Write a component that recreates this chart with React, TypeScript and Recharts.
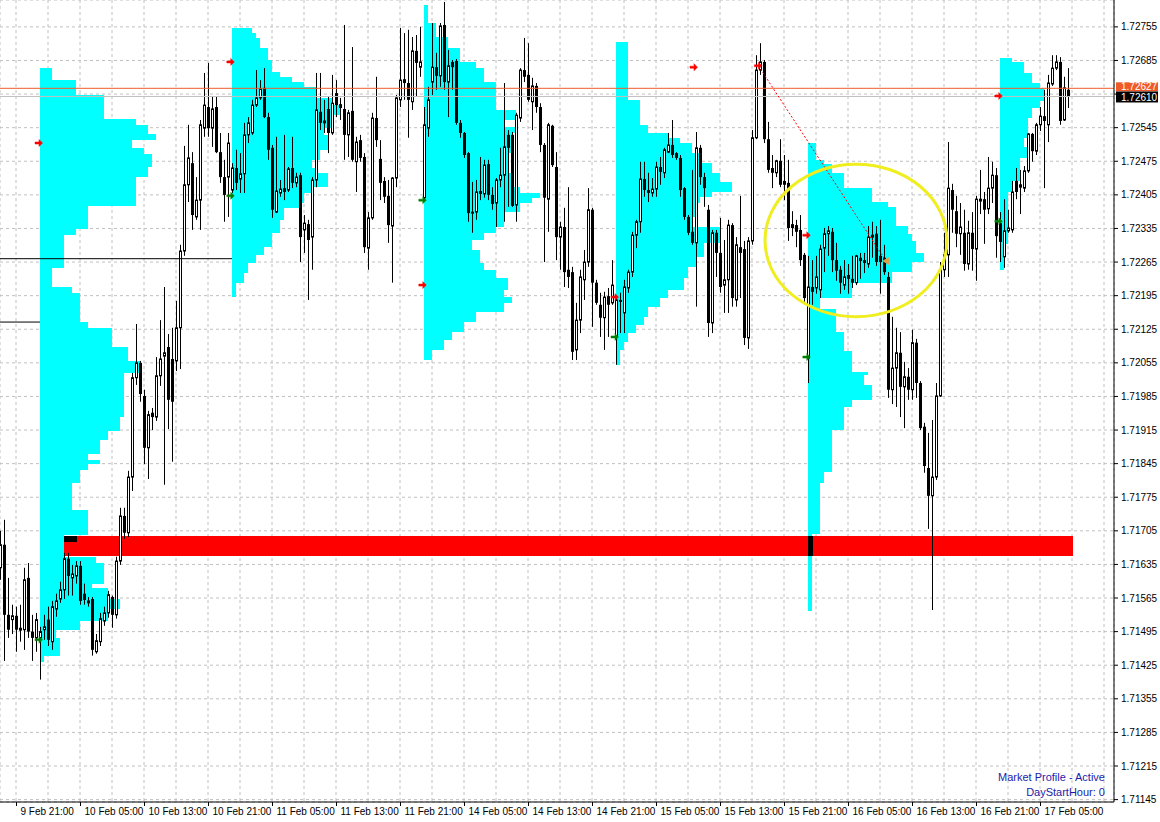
import React from "react";
import {
  Bar,
  CartesianGrid,
  ComposedChart,
  ReferenceArea,
  ReferenceDot,
  ReferenceLine,
  XAxis,
  YAxis,
} from "recharts";

// GBP-ish M30 chart with daily market profiles. Candles are [open, high, low, close].
type Ohlc = [number, number, number, number];

const feb09: Ohlc[] = [
  [1.71628, 1.71705, 1.71603, 1.71676], [1.71676, 1.71728, 1.71434, 1.7153], [1.7153, 1.71607, 1.71482, 1.71499],
  [1.7152, 1.71551, 1.7149, 1.71528], [1.71528, 1.71547, 1.71453, 1.71499], [1.71503, 1.71551, 1.71474, 1.71497],
  [1.71499, 1.71628, 1.71457, 1.71603], [1.71607, 1.71638, 1.71482, 1.71495], [1.71495, 1.7153, 1.71434, 1.71482],
  [1.71482, 1.71534, 1.71453, 1.7152],
];

const feb10: Ohlc[] = [
  [1.71482, 1.71505, 1.71395, 1.71495], [1.71499, 1.7153, 1.71478, 1.71505], [1.7152, 1.71547, 1.71465, 1.71478],
  [1.71474, 1.71559, 1.71457, 1.71547], [1.71542, 1.71574, 1.71526, 1.71559], [1.71563, 1.71599, 1.71555, 1.71582],
  [1.71582, 1.71659, 1.71563, 1.71647], [1.71647, 1.71659, 1.7157, 1.71611], [1.71607, 1.71634, 1.7157, 1.71615],
  [1.71611, 1.71642, 1.71595, 1.71632], [1.71632, 1.71642, 1.71551, 1.71559], [1.71574, 1.71595, 1.71551, 1.71561],
  [1.71555, 1.71567, 1.71547, 1.71559], [1.71563, 1.71567, 1.71445, 1.71457], [1.71453, 1.7149, 1.71449, 1.71476],
  [1.71474, 1.71534, 1.71465, 1.71522], [1.71517, 1.71547, 1.71507, 1.71534], [1.71534, 1.7158, 1.71524, 1.71572],
  [1.71567, 1.7157, 1.71503, 1.7153], [1.7153, 1.71651, 1.71522, 1.71642], [1.71642, 1.71753, 1.71634, 1.71736],
  [1.71736, 1.71753, 1.71688, 1.71701], [1.71701, 1.7183, 1.71692, 1.71817], [1.71817, 1.72034, 1.71788, 1.72024],
  [1.72024, 1.72136, 1.72009, 1.72055], [1.72055, 1.72059, 1.71974, 1.7199], [1.71986, 1.71999, 1.71844, 1.71878],
  [1.71878, 1.71955, 1.71813, 1.71947], [1.71951, 1.71961, 1.71915, 1.71942], [1.71942, 1.72067, 1.71934, 1.72028],
  [1.72028, 1.72144, 1.72007, 1.72063], [1.72069, 1.72213, 1.71801, 1.72076], [1.72088, 1.72115, 1.71917, 1.71978],
  [1.72063, 1.72128, 1.71849, 1.71974], [1.72059, 1.72184, 1.72038, 1.72128], [1.72128, 1.72301, 1.72042, 1.72288],
  [1.72288, 1.72507, 1.72278, 1.72426], [1.72426, 1.72551, 1.7239, 1.72482], [1.72471, 1.72494, 1.72332, 1.72363],
  [1.72359, 1.72442, 1.72353, 1.72394], [1.72394, 1.72561, 1.72332, 1.72551], [1.72544, 1.72659, 1.72526, 1.72592],
  [1.72588, 1.7268, 1.72526, 1.72544], [1.72544, 1.72609, 1.72505, 1.72584], [1.72588, 1.72609, 1.72492, 1.72494],
  [1.72494, 1.72534, 1.7243, 1.72442], [1.72442, 1.72478, 1.72349, 1.72405], [1.72442, 1.72534, 1.72359, 1.72513],
];

const feb11: Ohlc[] = [
  [1.72415, 1.72471, 1.72409, 1.72461], [1.72461, 1.72499, 1.72415, 1.7243], [1.72438, 1.72492, 1.72409, 1.72449],
  [1.72449, 1.72555, 1.72409, 1.7253], [1.7253, 1.72567, 1.72513, 1.72555], [1.72534, 1.72603, 1.7253, 1.72592],
  [1.72592, 1.72665, 1.72588, 1.72607], [1.72607, 1.72644, 1.72603, 1.72626], [1.72628, 1.72669, 1.72565, 1.72567],
  [1.72567, 1.72576, 1.72478, 1.72499], [1.72503, 1.72509, 1.72357, 1.72374], [1.72369, 1.72526, 1.72367, 1.72413],
  [1.72409, 1.72436, 1.72401, 1.72417], [1.72419, 1.7253, 1.72394, 1.72411], [1.72415, 1.72463, 1.72411, 1.72459],
  [1.72461, 1.72526, 1.72419, 1.7243], [1.7243, 1.72451, 1.72421, 1.72442], [1.72446, 1.72451, 1.72265, 1.72317],
  [1.72332, 1.72363, 1.72284, 1.72346], [1.72344, 1.72353, 1.72186, 1.72311], [1.72317, 1.72442, 1.72249, 1.72436],
  [1.72436, 1.72659, 1.72421, 1.72582], [1.72578, 1.72659, 1.7254, 1.72555], [1.72555, 1.72603, 1.72534, 1.72559],
  [1.72584, 1.72609, 1.72492, 1.72534], [1.72534, 1.72655, 1.7253, 1.72596], [1.72617, 1.72644, 1.72567, 1.72592],
  [1.72594, 1.72607, 1.72561, 1.72586], [1.72584, 1.72759, 1.72478, 1.7253], [1.7253, 1.72582, 1.72484, 1.72576],
  [1.7258, 1.72713, 1.72474, 1.72478], [1.72474, 1.72526, 1.72411, 1.72515], [1.72519, 1.7253, 1.72474, 1.72482],
  [1.72484, 1.72492, 1.72284, 1.72296], [1.72294, 1.72369, 1.72249, 1.72357], [1.72357, 1.72576, 1.72353, 1.72565],
  [1.72565, 1.72651, 1.72505, 1.72519], [1.7248, 1.72519, 1.72394, 1.7243], [1.72434, 1.72442, 1.72388, 1.72401],
  [1.72403, 1.72436, 1.72305, 1.72342], [1.7234, 1.72442, 1.72222, 1.7244], [1.7244, 1.72613, 1.72421, 1.72607],
  [1.72603, 1.72753, 1.72588, 1.72644], [1.72646, 1.72742, 1.72603, 1.72638], [1.72638, 1.72749, 1.72524, 1.72603],
  [1.72599, 1.72734, 1.72582, 1.72705], [1.72705, 1.72738, 1.72609, 1.7268], [1.72671, 1.72755, 1.72651, 1.72682],
];

const feb14: Ohlc[] = [
  [1.72399, 1.72588, 1.72394, 1.72551], [1.72544, 1.7263, 1.72526, 1.72603], [1.7264, 1.72763, 1.72613, 1.72671],
  [1.72671, 1.72701, 1.72624, 1.72653], [1.72653, 1.72763, 1.7263, 1.72757], [1.72759, 1.72807, 1.72624, 1.7264],
  [1.7264, 1.72707, 1.72567, 1.72674], [1.72682, 1.72686, 1.72624, 1.72671], [1.72684, 1.72688, 1.72551, 1.72555],
  [1.72555, 1.72561, 1.72524, 1.72534], [1.72534, 1.72536, 1.72482, 1.72488], [1.72492, 1.72494, 1.72349, 1.72367],
  [1.72367, 1.72432, 1.72326, 1.72369], [1.72369, 1.72436, 1.72353, 1.72411], [1.72413, 1.72484, 1.72394, 1.72407],
  [1.72407, 1.72478, 1.72399, 1.72467], [1.72469, 1.72478, 1.72394, 1.72405], [1.72405, 1.72421, 1.72374, 1.72386],
  [1.72388, 1.7244, 1.72338, 1.72436], [1.72436, 1.72503, 1.72421, 1.72446], [1.72446, 1.72638, 1.72349, 1.72505],
  [1.7253, 1.7254, 1.7238, 1.72503], [1.7253, 1.72536, 1.7238, 1.72382], [1.72384, 1.72576, 1.72349, 1.72571],
  [1.72565, 1.72669, 1.72557, 1.72665], [1.72665, 1.72732, 1.7264, 1.72651], [1.72655, 1.72721, 1.72599, 1.72603],
  [1.72599, 1.72649, 1.7254, 1.72632], [1.72632, 1.72638, 1.72576, 1.72588], [1.72588, 1.72596, 1.72494, 1.72509],
  [1.72509, 1.72513, 1.72265, 1.72399], [1.72396, 1.72555, 1.72328, 1.72551], [1.72549, 1.72551, 1.72463, 1.72467],
  [1.72463, 1.72494, 1.72269, 1.72317], [1.72317, 1.72349, 1.72249, 1.72338], [1.72338, 1.72378, 1.72213, 1.72244],
  [1.72249, 1.72421, 1.72211, 1.72234], [1.72244, 1.72255, 1.72061, 1.72078], [1.72082, 1.7218, 1.72061, 1.72144],
  [1.72144, 1.72249, 1.72117, 1.72234], [1.72228, 1.7229, 1.72186, 1.72265], [1.72265, 1.72419, 1.72255, 1.72374],
  [1.72374, 1.72378, 1.7213, 1.72222], [1.72222, 1.72228, 1.72176, 1.7218], [1.72176, 1.72201, 1.72109, 1.72149],
  [1.72149, 1.72203, 1.72082, 1.72192], [1.72194, 1.72211, 1.72109, 1.72176], [1.7218, 1.72269, 1.72176, 1.72217],
];

const feb15: Ohlc[] = [
  [1.72109, 1.72192, 1.72051, 1.72186], [1.72186, 1.72201, 1.72117, 1.72182], [1.72159, 1.72228, 1.72117, 1.72213],
  [1.72211, 1.72249, 1.72201, 1.72244], [1.72244, 1.72328, 1.72234, 1.72321], [1.72321, 1.72353, 1.72294, 1.72349],
  [1.72349, 1.72474, 1.72326, 1.72438], [1.72438, 1.72474, 1.72401, 1.72415], [1.72415, 1.72451, 1.7239, 1.72409],
  [1.72409, 1.7244, 1.72401, 1.72417], [1.72417, 1.72474, 1.72401, 1.72463], [1.72463, 1.72484, 1.72426, 1.72453],
  [1.72451, 1.72503, 1.7244, 1.72499], [1.72494, 1.72534, 1.72492, 1.72509], [1.72509, 1.72561, 1.72482, 1.72488],
  [1.72492, 1.72494, 1.72478, 1.72482], [1.72482, 1.72488, 1.72401, 1.72415], [1.72419, 1.72421, 1.72353, 1.72359],
  [1.72359, 1.72363, 1.72321, 1.72326], [1.72328, 1.72457, 1.72301, 1.72305], [1.72305, 1.72536, 1.72172, 1.72503],
  [1.72503, 1.72509, 1.72426, 1.72442], [1.72442, 1.72451, 1.7238, 1.72419], [1.72374, 1.72384, 1.72109, 1.72138],
  [1.72138, 1.72332, 1.72117, 1.72326], [1.72326, 1.72332, 1.72234, 1.72284], [1.72284, 1.72357, 1.72201, 1.72213],
  [1.72217, 1.72311, 1.72159, 1.72228], [1.72228, 1.72353, 1.72159, 1.72342], [1.72342, 1.72346, 1.72172, 1.7219],
  [1.72186, 1.72317, 1.72172, 1.72301], [1.72296, 1.72403, 1.7219, 1.72284], [1.72292, 1.72309, 1.72092, 1.72107],
  [1.72107, 1.72317, 1.72084, 1.72309], [1.72309, 1.7254, 1.72301, 1.72524], [1.72524, 1.72696, 1.72521, 1.72665],
  [1.72665, 1.72721, 1.72655, 1.72682], [1.72682, 1.72686, 1.72513, 1.72521], [1.72521, 1.72557, 1.72451, 1.72457],
  [1.72461, 1.72488, 1.72419, 1.72451], [1.72451, 1.72478, 1.72442, 1.72476], [1.72476, 1.72521, 1.72421, 1.72426],
  [1.72434, 1.72488, 1.72394, 1.72426], [1.7243, 1.72478, 1.72309, 1.72336], [1.72344, 1.72371, 1.72319, 1.72336],
  [1.72342, 1.72353, 1.72296, 1.72328], [1.72332, 1.72363, 1.72257, 1.72269], [1.7228, 1.72284, 1.72182, 1.7219],
];

const feb16: Ohlc[] = [
  [1.72065, 1.72278, 1.72013, 1.72213], [1.72213, 1.72269, 1.72176, 1.72203], [1.72211, 1.72278, 1.72199, 1.72234],
  [1.72207, 1.72301, 1.7219, 1.72292], [1.72294, 1.72336, 1.72244, 1.72324], [1.72324, 1.7234, 1.72278, 1.7233],
  [1.72328, 1.72336, 1.72244, 1.72269], [1.72269, 1.72305, 1.72226, 1.72247], [1.72249, 1.72257, 1.72199, 1.72222],
  [1.72217, 1.72269, 1.72207, 1.72234], [1.72238, 1.72261, 1.72199, 1.7223], [1.7223, 1.72278, 1.72211, 1.72222],
  [1.72222, 1.7228, 1.72217, 1.72278], [1.72274, 1.72284, 1.7223, 1.72267], [1.72269, 1.72284, 1.72242, 1.72263],
  [1.72261, 1.7234, 1.72253, 1.72317], [1.72317, 1.72349, 1.72274, 1.72321], [1.72324, 1.7234, 1.72257, 1.72265],
  [1.72278, 1.72353, 1.72199, 1.72265], [1.72274, 1.72301, 1.72238, 1.72244], [1.72234, 1.72244, 1.71982, 1.71999],
  [1.71999, 1.72151, 1.71969, 1.72044], [1.72044, 1.72128, 1.71963, 1.72076], [1.72076, 1.72119, 1.71942, 1.72005],
  [1.72005, 1.72057, 1.71919, 1.72026], [1.72026, 1.72044, 1.71978, 1.71999], [1.71999, 1.72124, 1.71978, 1.72097],
  [1.72097, 1.72105, 1.71982, 1.72013], [1.72013, 1.72017, 1.71915, 1.71919], [1.71922, 1.7193, 1.71826, 1.7184],
  [1.71836, 1.71909, 1.71709, 1.71778], [1.71778, 1.71936, 1.7154, 1.71817], [1.71817, 1.72013, 1.71811, 1.71986],
  [1.71986, 1.72265, 1.71984, 1.72249], [1.72249, 1.72326, 1.72234, 1.7228], [1.7228, 1.72515, 1.72234, 1.72419],
  [1.72415, 1.72428, 1.72326, 1.72374], [1.72371, 1.72403, 1.72296, 1.72324], [1.72324, 1.72388, 1.7228, 1.72338],
  [1.72326, 1.72374, 1.72247, 1.72261], [1.72261, 1.72351, 1.72249, 1.72326], [1.72326, 1.72369, 1.72247, 1.72292],
  [1.72292, 1.72403, 1.72226, 1.72396], [1.72392, 1.72457, 1.72365, 1.72396], [1.72396, 1.72411, 1.72303, 1.72374],
  [1.72376, 1.72484, 1.72365, 1.72419], [1.72419, 1.72474, 1.72388, 1.72446], [1.72446, 1.72461, 1.72274, 1.72319],
];

const feb17: Ohlc[] = [
  [1.72346, 1.72369, 1.72265, 1.72307], [1.72276, 1.72396, 1.72253, 1.7233], [1.7233, 1.72374, 1.72326, 1.72336],
  [1.72332, 1.72434, 1.72326, 1.72411], [1.72434, 1.72461, 1.72396, 1.72411], [1.72421, 1.72457, 1.72365, 1.72426],
  [1.72419, 1.72465, 1.72411, 1.72455], [1.72455, 1.72534, 1.72451, 1.72532], [1.72532, 1.72534, 1.72474, 1.72496],
  [1.72496, 1.72555, 1.72488, 1.72551], [1.72551, 1.72588, 1.72538, 1.72569], [1.72569, 1.72624, 1.72419, 1.72559],
  [1.72551, 1.72655, 1.72515, 1.72638], [1.72636, 1.72696, 1.72632, 1.72669], [1.72669, 1.72696, 1.72665, 1.72682],
  [1.72682, 1.72692, 1.72551, 1.72559], [1.72561, 1.72651, 1.72559, 1.72628], [1.72624, 1.72669, 1.72586, 1.7261],
];

// daily market profiles: price levels (top -> bottom) and TPO count for each band
const p1Levels = [1.72669, 1.72644, 1.72613, 1.72563, 1.72551, 1.72532, 1.72519, 1.72503, 1.7249, 1.72463, 1.72442, 1.72382, 1.72334, 1.72321, 1.72253, 1.72213, 1.72201, 1.7214, 1.72128, 1.72088, 1.72059, 1.72034, 1.72007, 1.71942, 1.71913, 1.71894, 1.71865, 1.71853, 1.71844, 1.71832, 1.71805, 1.71749, 1.71697, 1.71651, 1.71638, 1.71595, 1.71586, 1.71563, 1.71542, 1.71517, 1.71499, 1.71482, 1.71445, 1.71432];
const p1Counts = [3, 9, 16, 24, 27, 29, 23, 26, 28, 27, 24, 12, 9, 6, 3, 8, 10, 12, 18, 22, 25, 21, 21, 20, 17, 15, 12, 15, 12, 10, 8, 12, 6, 14, 16, 13, 17, 20, 17, 10, 4, 5, 1];
const p2Levels = [1.72753, 1.72742, 1.72732, 1.72711, 1.72686, 1.72661, 1.72651, 1.7264, 1.7263, 1.72607, 1.72592, 1.72571, 1.72544, 1.7253, 1.72499, 1.72478, 1.72461, 1.72451, 1.72421, 1.72409, 1.72388, 1.72378, 1.72353, 1.72326, 1.72296, 1.7228, 1.72263, 1.72242, 1.72222, 1.72192];
const p2Counts = [5, 6, 7, 9, 10, 12, 15, 18, 21, 25, 27, 25, 23, 24, 22, 20, 21, 24, 20, 18, 17, 13, 12, 10, 8, 6, 4, 3, 1];
const p3Levels = [1.72801, 1.72763, 1.72734, 1.72711, 1.72682, 1.72669, 1.7264, 1.72582, 1.72561, 1.72546, 1.72534, 1.72492, 1.72451, 1.72421, 1.72409, 1.72399, 1.72388, 1.72369, 1.72359, 1.72338, 1.72326, 1.72311, 1.7229, 1.72263, 1.72249, 1.72232, 1.72207, 1.72192, 1.7218, 1.72161, 1.7214, 1.72119, 1.72103, 1.72082, 1.72061];
const p3Counts = [1, 3, 6, 9, 13, 15, 18, 23, 20, 23, 22, 21, 22, 24, 29, 27, 24, 20, 20, 18, 15, 12, 14, 15, 18, 21, 20, 22, 20, 13, 10, 7, 5, 2];
const p4Levels = [1.72724, 1.72603, 1.72551, 1.72534, 1.72524, 1.72513, 1.72492, 1.72471, 1.72451, 1.72432, 1.72411, 1.72401, 1.72388, 1.72359, 1.72338, 1.72305, 1.72276, 1.72255, 1.72232, 1.72207, 1.7219, 1.72172, 1.72151, 1.72134, 1.72117, 1.72099, 1.72082, 1.72051];
const p4Counts = [3, 6, 8, 13, 16, 19, 21, 24, 26, 29, 24, 21, 20, 19, 26, 22, 20, 18, 17, 13, 11, 8, 7, 5, 3, 2, 1];
const p5Levels = [1.72513, 1.72478, 1.72469, 1.72451, 1.72419, 1.7239, 1.7238, 1.7234, 1.72324, 1.72309, 1.72284, 1.72265, 1.72244, 1.72222, 1.7219, 1.72167, 1.72119, 1.7208, 1.72036, 1.7203, 1.72009, 1.71978, 1.71963, 1.71915, 1.71828, 1.71805, 1.71699, 1.71538];
const p5Counts = [2, 4, 6, 9, 16, 20, 22, 25, 26, 27, 29, 26, 21, 11, 3, 7, 9, 11, 15, 14, 16, 11, 9, 6, 4, 3, 1];
const p6Levels = [1.7269, 1.72682, 1.72659, 1.72638, 1.72628, 1.72601, 1.72586, 1.72565, 1.72524, 1.72505, 1.72482, 1.72434, 1.72411, 1.72303, 1.72249];
const p6Counts = [3, 6, 8, 10, 11, 10, 8, 7, 6, 7, 5, 3, 2, 1];

const priceTicks = [
  1.71145, 1.71215, 1.71285, 1.71355, 1.71425, 1.71495, 1.71565, 1.71635, 1.71705, 1.71775, 1.71845, 1.71915,
  1.71985, 1.72055, 1.72125, 1.72195, 1.72265, 1.72335, 1.72405, 1.72475, 1.72545, 1.72615, 1.72685, 1.72755,
];
// this tick's label sits under the bid/ask tags on the price scale
const hiddenTick = 1.72615;
const timeLabels = [
  "9 Feb 21:00", "10 Feb 05:00", "10 Feb 13:00", "10 Feb 21:00", "11 Feb 05:00", "11 Feb 13:00",
  "11 Feb 21:00", "14 Feb 05:00", "14 Feb 13:00", "14 Feb 21:00", "15 Feb 05:00", "15 Feb 13:00",
  "15 Feb 21:00", "16 Feb 05:00", "16 Feb 13:00", "16 Feb 21:00", "17 Feb 05:00",
];

// markers, levels and drawings on the chart
const closeMarks = [[5.75, 1.72513], [53.7, 1.72682], [101.7, 1.72217], [149.75, 1.72192], [169.5, 1.72671], [185.6, 1.72674], [197.7, 1.72321], [245.7, 1.72611]];
const openMarks = [[5.75, 1.71478], [53.7, 1.72403], [101.7, 1.72394], [149.75, 1.72109], [197.7, 1.72067], [245.7, 1.7235]];
const pivotMark = [217.5, 1.72267];
const trendLine = [[185.6, 1.72674], [217.5, 1.72267]];
const circleBox = [187.25, 232.75, 1.72151, 1.72469];
const prevLevels = [[-4, 54, 1.72272], [-4, 6, 1.7214]];
const zone = { from: 12, to: 264.25, low: 1.71653, high: 1.71694 };
const askPrice = 1.72627;
const bidPrice = 1.7261;

const FIRST_BAR = -4;
const candles = [feb09, feb10, feb11, feb14, feb15, feb16, feb17].flat().map((v, k) => ({
  i: FIRST_BAR + k,
  o: v[0],
  h: v[1],
  l: v[2],
  c: v[3],
  range: [v[2], v[1]],
}));

const profiles = [
  { start: 6, levels: p1Levels, counts: p1Counts },
  { start: 54, levels: p2Levels, counts: p2Counts },
  { start: 102, levels: p3Levels, counts: p3Counts },
  { start: 150, levels: p4Levels, counts: p4Counts },
  { start: 198, levels: p5Levels, counts: p5Counts },
  { start: 246, levels: p6Levels, counts: p6Counts },
];

const gridTicks = Array.from({ length: 35 }, (_, k) => k * 8);

const W = 1160;
const H = 822;
const FONT = "'Liberation Sans', Arial, sans-serif";

function Candle(props: any) {
  const { x, y, width, height, payload } = props;
  if (x == null || payload == null) return null;
  const top = Math.min(y, y + height);
  const bottom = Math.max(y, y + height);
  const span = payload.h - payload.l;
  const py = (p: number) => (span > 0 ? top + ((payload.h - p) / span) * (bottom - top) : top);
  const cx = Math.round(x + width / 2);
  const yo = py(payload.o);
  const yc = py(payload.c);
  const bTop = Math.min(yo, yc);
  const bh = Math.max(Math.abs(yo - yc), 1);
  const up = payload.c >= payload.o;
  return (
    <g>
      <line x1={cx + 0.5} x2={cx + 0.5} y1={top} y2={bottom} stroke="#000" strokeWidth={1} />
      {up ? (
        <rect x={cx - 0.5} y={bTop} width={2} height={bh} fill="#fff" stroke="#000" strokeWidth={1} />
      ) : (
        <rect x={cx - 1} y={bTop} width={3} height={bh} fill="#000" />
      )}
    </g>
  );
}

const CrispRect = (p: any) => (
  <rect x={p.x} y={p.y} width={p.width} height={p.height} fill={p.fill} shapeRendering="crispEdges" />
);

const EllipseShape = (p: any) => (
  <ellipse
    cx={p.x + p.width / 2}
    cy={p.y + p.height / 2}
    rx={p.width / 2}
    ry={p.height / 2}
    fill="none"
    stroke="#f0ee20"
    strokeWidth={3}
  />
);

const arrowShape = (color: string) => (p: any) => (
  <path
    d={`M${p.cx - 4},${p.cy - 1} h4 v-2.5 l3.5,3.5 l-3.5,3.5 v-2.5 h-4 z`}
    fill={color}
    stroke={color}
    strokeWidth={0.5}
  />
);

const triangleShape = (p: any) => (
  <path d={`M${p.cx - 4},${p.cy} L${p.cx + 3},${p.cy - 4} L${p.cx + 3},${p.cy + 4} Z`} fill="#d9a050" />
);

function TimeTick({ x, y, payload }: any) {
  const k = payload.value / 16;
  const label = Number.isInteger(k) ? timeLabels[k] : undefined;
  if (!label) return <g />;
  const px = Math.round(x) + 0.5;
  return (
    <g>
      <line x1={px} x2={px} y1={y} y2={y + 4} stroke="#000" />
      <text x={px + 4} y={y + 13} fontSize={10} fill="#000" fontFamily={FONT}>
        {label}
      </text>
    </g>
  );
}

function PriceTick({ x, y, payload }: any) {
  if (Math.abs(payload.value - hiddenTick) < 1e-7) return <g />;
  return (
    <text x={x} y={y} dy="0.355em" fontSize={10} fill="#000" fontFamily={FONT} textAnchor="start">
      {payload.value.toFixed(5)}
    </text>
  );
}

const priceTag = (fill: string, text: string, top: number, bottom: number) => (props: any) => {
  const vb = props.viewBox;
  if (!vb) return null;
  const x = vb.x + vb.width + 2;
  const y = vb.y;
  return (
    <g>
      <rect x={x} y={y - top} width={42} height={top + bottom} fill={fill} />
      <text x={x + 5} y={y + bottom - 1.5} fontSize={10} fill="#fff" fontFamily={FONT}>
        {text}
      </text>
    </g>
  );
};

export default function App() {
  return (
    <div style={{ position: "absolute", left: 0, top: 0, width: W, height: H, background: "#fff", fontFamily: FONT }}>
      <ComposedChart width={W} height={H} data={candles} margin={{ top: 0, right: 0, bottom: 0, left: 0 }}>
        <CartesianGrid stroke="#c0c0c0" strokeDasharray="3 3" />
        <XAxis
          type="number"
          dataKey="i"
          domain={[-4, 274.5]}
          allowDataOverflow
          ticks={gridTicks}
          interval={0}
          height={20}
          tickSize={0}
          tickMargin={0}
          tickLine={false}
          stroke="#000"
          tick={<TimeTick />}
        />
        <YAxis
          orientation="right"
          type="number"
          domain={[1.7114, 1.72811]}
          allowDataOverflow
          ticks={priceTicks}
          interval={0}
          width={46}
          tickSize={4}
          tickMargin={3}
          stroke="#000"
          tick={<PriceTick />}
        />
        {profiles.flatMap((p, k) =>
          p.counts.map((n, j) => (
            <ReferenceArea
              key={`p${k}-${j}`}
              x1={p.start}
              x2={p.start + n}
              y1={p.levels[j + 1]}
              y2={p.levels[j]}
              fill="#00ffff"
              fillOpacity={1}
              stroke="none"
              shape={CrispRect}
            />
          ))
        )}
        <ReferenceArea x1={zone.from} x2={zone.to} y1={zone.low} y2={zone.high} fill="#ff0000" fillOpacity={1} shape={CrispRect} />
        <ReferenceArea x1={zone.from} x2={zone.from + 3.25} y1={1.71682} y2={zone.high} fill="#000" fillOpacity={1} shape={CrispRect} />
        <ReferenceArea x1={198} x2={199.25} y1={zone.low} y2={zone.high} fill="#000" fillOpacity={1} shape={CrispRect} />
        <Bar dataKey="range" barSize={3} shape={<Candle />} isAnimationActive={false} />
        {prevLevels.map(([a, b, y], k) => (
          <ReferenceLine key={`lv${k}`} segment={[{ x: a, y }, { x: b, y }]} stroke="#000" strokeWidth={1} />
        ))}
        <ReferenceLine y={askPrice} stroke="#f05a28" strokeWidth={1} label={priceTag("#f05a28", "1.72627", 6, 3)} />
        <ReferenceLine y={bidPrice} stroke="#c0c0c0" strokeWidth={1} label={priceTag("#000", "1.72610", 5, 6)} />
        <ReferenceLine
          segment={[
            { x: trendLine[0][0], y: trendLine[0][1] },
            { x: trendLine[1][0], y: trendLine[1][1] },
          ]}
          stroke="#ff0000"
          strokeWidth={1}
          strokeDasharray="2 2"
        />
        {closeMarks.map(([x, y], k) => (
          <ReferenceDot key={`cm${k}`} x={x} y={y} r={3} shape={arrowShape("#ff0000")} />
        ))}
        {openMarks.map(([x, y], k) => (
          <ReferenceDot key={`om${k}`} x={x} y={y} r={3} shape={arrowShape("#008000")} />
        ))}
        <ReferenceDot x={pivotMark[0]} y={pivotMark[1]} r={3} shape={triangleShape} />
        <ReferenceArea
          x1={circleBox[0]}
          x2={circleBox[1]}
          y1={circleBox[2]}
          y2={circleBox[3]}
          shape={EllipseShape}
          zIndex={650}
        />
      </ComposedChart>
      <div
        style={{
          position: "absolute",
          right: 55,
          top: 770,
          textAlign: "right",
          fontSize: 11,
          lineHeight: "15px",
          color: "#1c1ca8",
          whiteSpace: "nowrap",
        }}
      >
        <div>Market Profile - Active</div>
        <div>DayStartHour: 0</div>
      </div>
    </div>
  );
}
